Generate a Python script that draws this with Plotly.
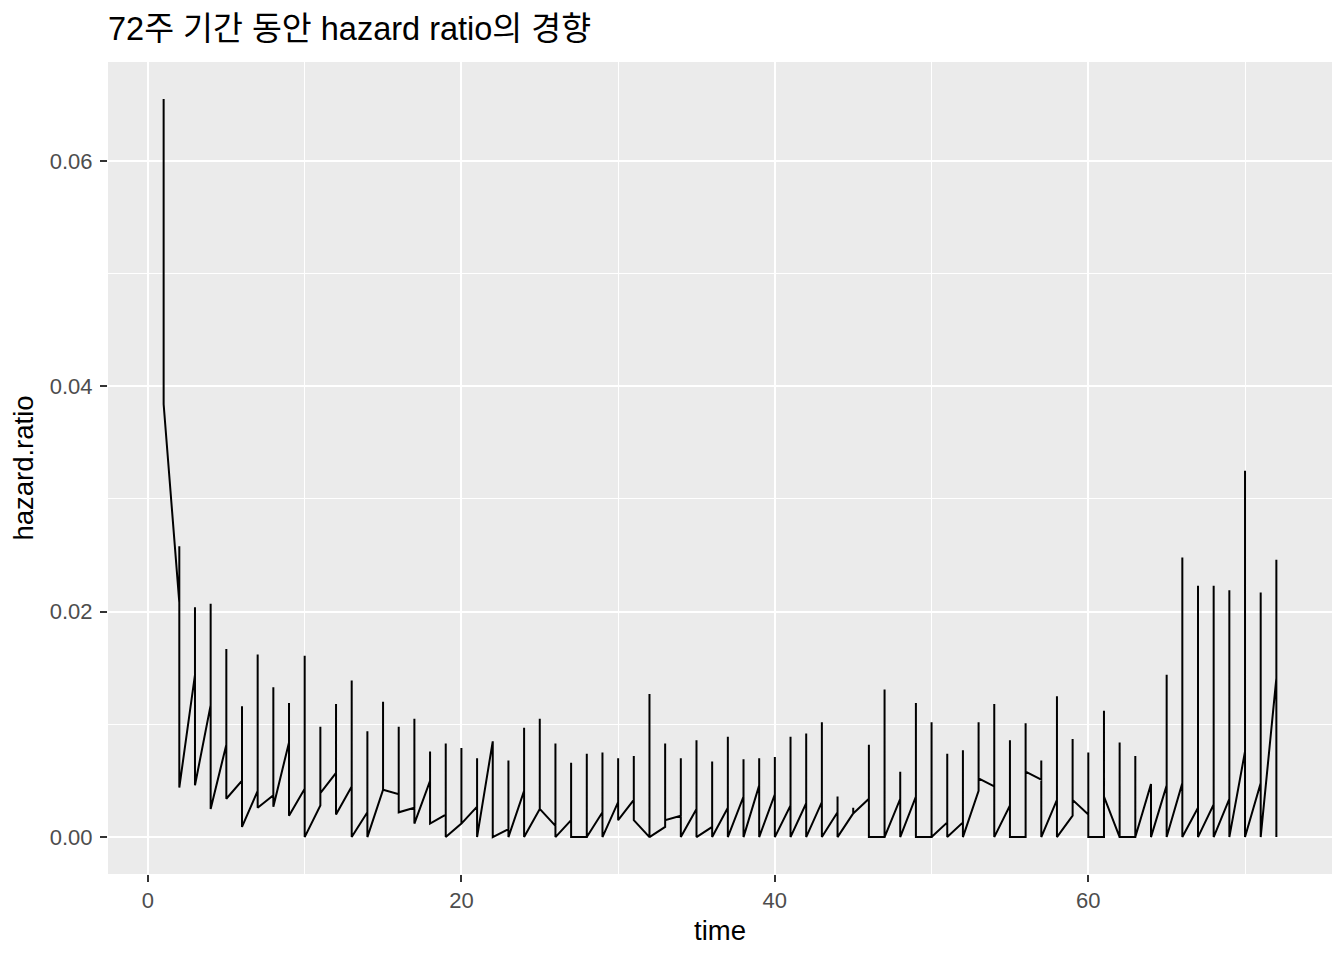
import plotly.graph_objects as go

# values per week: entry point, peak, exit point (three records per time)
times = list(range(1, 73))
entry = [0.0655, 0.0208, 0.0144, 0.0117, 0.0082, 0.0050, 0.0041, 0.0037, 0.0084, 0.0043,
         0.0028, 0.0057, 0.0045, 0.0022, 0.0042, 0.0038, 0.0026, 0.0050, 0.0020, 0.0012,
         0.0027, 0.0085, 0.0007, 0.0041, 0.0025, 0.0010, 0.0015, 0.0000, 0.0022, 0.0031,
         0.0033, 0.0000, 0.0009, 0.0019, 0.0025, 0.0009, 0.0026, 0.0036, 0.0046, 0.0038,
         0.0028, 0.0030, 0.0031, 0.0022, 0.0021, 0.0034, 0.0000, 0.0034, 0.0036, 0.0000,
         0.0013, 0.0013, 0.0041, 0.0045, 0.0028, 0.0000, 0.0051, 0.0033, 0.0019, 0.0020,
         0.0000, 0.0000, 0.0000, 0.0047, 0.0046, 0.0048, 0.0026, 0.0029, 0.0034, 0.0076,
         0.0048, 0.0141]
peak = [0.0655, 0.0258, 0.0204, 0.0207, 0.0167, 0.0116, 0.0162, 0.0133, 0.0119, 0.0161,
        0.0098, 0.0118, 0.0139, 0.0094, 0.0120, 0.0098, 0.0105, 0.0076, 0.0083, 0.0079,
        0.0070, 0.0085, 0.0068, 0.0097, 0.0105, 0.0083, 0.0066, 0.0074, 0.0075, 0.0070,
        0.0072, 0.0127, 0.0083, 0.0070, 0.0086, 0.0067, 0.0089, 0.0069, 0.0070, 0.0071,
        0.0089, 0.0092, 0.0102, 0.0036, 0.0026, 0.0082, 0.0131, 0.0058, 0.0119, 0.0102,
        0.0074, 0.0077, 0.0102, 0.0118, 0.0086, 0.0101, 0.0068, 0.0125, 0.0087, 0.0075,
        0.0112, 0.0084, 0.0072, 0.0047, 0.0144, 0.0248, 0.0223, 0.0223, 0.0219, 0.0325,
        0.0217, 0.0246]
exit_ = [0.0384, 0.0044, 0.0046, 0.0025, 0.0034, 0.0009, 0.0026, 0.0027, 0.0019, 0.0000,
         0.0039, 0.0020, 0.0000, 0.0000, 0.0042, 0.0022, 0.0012, 0.0012, 0.0000, 0.0012,
         0.0000, 0.0000, 0.0000, 0.0000, 0.0025, 0.0000, 0.0000, 0.0000, 0.0000, 0.0015,
         0.0015, 0.0000, 0.0015, 0.0000, 0.0000, 0.0000, 0.0000, 0.0000, 0.0000, 0.0000,
         0.0000, 0.0000, 0.0000, 0.0000, 0.0021, 0.0000, 0.0000, 0.0000, 0.0000, 0.0000,
         0.0000, 0.0000, 0.0052, 0.0000, 0.0000, 0.0058, 0.0000, 0.0000, 0.0033, 0.0000,
         0.0036, 0.0000, 0.0000, 0.0000, 0.0000, 0.0000, 0.0000, 0.0000, 0.0000, 0.0000,
         0.0000, 0.0000]

x_major = [0, 20, 40, 60]
x_minor = [10, 30, 50, 70]
y_major = [0.0, 0.02, 0.04, 0.06]
y_major_labels = ["0.00", "0.02", "0.04", "0.06"]
y_minor = [0.01, 0.03, 0.05]

xs, ys = [], []
for t, a, h, b in zip(times, entry, peak, exit_):
    xs += [t, t, t]
    ys += [a, h, b]

fig = go.Figure()
fig.add_trace(go.Scatter(x=xs, y=ys, mode="lines",
                         line=dict(color="black", width=2), showlegend=False))

font_fam = "Liberation Sans, Arial, Noto Sans CJK KR, sans-serif"
xmin, xmax = min(times), max(times)
xpad = (xmax - xmin) * 0.05
ymax = max(peak)
ypad = ymax * 0.05

W, H = 1336, 952  # page body has an 8px margin
fig.update_layout(
    width=W, height=H,
    margin=dict(l=100, r=12, t=54, b=86),
    paper_bgcolor="white", plot_bgcolor="#EBEBEB",
    font=dict(family=font_fam, color="black"),
    title=dict(text="72주 기간 동안 hazard ratio의 경향", x=100 / W, xanchor="left",
               xref="container", y=1 - 21 / H, yanchor="middle", yref="container",
               font=dict(size=32.5, color="black", family=font_fam)),
)
fig.update_xaxes(
    range=[xmin - xpad, xmax + xpad], tickmode="array", tickvals=x_major,
    ticktext=[str(v) for v in x_major],
    showgrid=True, gridcolor="white", gridwidth=1.7, zeroline=False,
    ticks="outside", ticklen=7, tickwidth=1.5, tickcolor="#333333",
    tickfont=dict(size=22, color="#4D4D4D"),
    minor=dict(tickmode="array", tickvals=x_minor, showgrid=True, gridcolor="white",
               gridwidth=0.9, ticks=""),
    title=dict(text="time", font=dict(size=27.5, color="black"), standoff=8),
    showline=False,
)
fig.update_yaxes(
    range=[-ypad, ymax + ypad], tickmode="array", tickvals=y_major, ticktext=y_major_labels,
    showgrid=True, gridcolor="white", gridwidth=1.7, zeroline=False,
    ticks="outside", ticklen=7, tickwidth=1.5, tickcolor="#333333",
    tickfont=dict(size=22, color="#4D4D4D"),
    ticklabelstandoff=3,
    minor=dict(tickmode="array", tickvals=y_minor, showgrid=True, gridcolor="white",
               gridwidth=0.9, ticks=""),
    title=dict(text="hazard.ratio", font=dict(size=27.5, color="black"), standoff=9),
    showline=False,
)

fig.write_html("out.html")
